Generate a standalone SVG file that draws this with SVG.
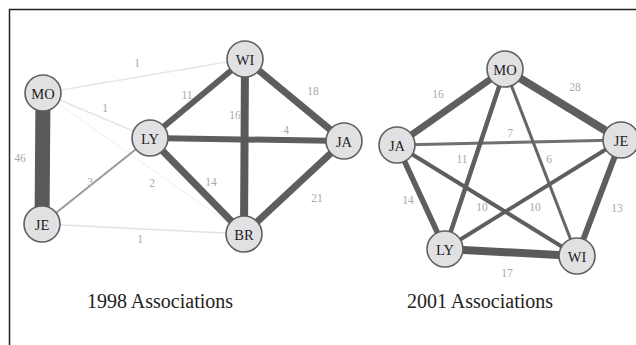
<svg xmlns="http://www.w3.org/2000/svg" width="636" height="345" viewBox="0 0 636 345">
<style>
.node circle{fill:#e1e1e3;stroke:#5f5f5f;stroke-width:1.6}
.node text{font-family:"Liberation Serif",serif;font-size:14.5px;fill:#222;text-anchor:middle;dominant-baseline:central}
.e{stroke-linecap:butt;fill:none}
.lbl{font-family:"Liberation Serif",serif;font-size:11.5px;fill:#a8a8a8;text-anchor:middle;dominant-baseline:central}
.title{font-family:"Liberation Serif",serif;font-size:20px;fill:#222;text-anchor:middle}
</style>
<rect x="0" y="0" width="636" height="345" fill="#fff"/>
<path d="M9.5,345 V9.5 H636" fill="none" stroke="#222" stroke-width="1.5"/>
<g id="connectors">
  <!-- 1998 -->
  <line class="e" x1="43" y1="93" x2="245" y2="59" stroke="#e6e6e6" stroke-width="1.5"/>
  <line class="e" x1="43" y1="93" x2="150" y2="138" stroke="#e6e6e6" stroke-width="1.5"/>
  <line class="e" x1="43" y1="93" x2="244" y2="234" stroke="#f4f4f4" stroke-width="1.2"/>
  <line class="e" x1="42" y1="224" x2="244" y2="234" stroke="#e2e2e2" stroke-width="1.5"/>
  <line class="e" x1="42" y1="224" x2="150" y2="138" stroke="#9a9a9a" stroke-width="2"/>
  <line class="e" x1="43" y1="93" x2="42" y2="224" stroke="#5a5a5a" stroke-width="15"/>
  <line class="e" x1="150" y1="138" x2="245" y2="59" stroke="#5e5e5e" stroke-width="6"/>
  <line class="e" x1="150" y1="138" x2="344" y2="141" stroke="#5e5e5e" stroke-width="6"/>
  <line class="e" x1="150" y1="138" x2="244" y2="234" stroke="#5e5e5e" stroke-width="7"/>
  <line class="e" x1="245" y1="59" x2="244" y2="234" stroke="#5a5a5a" stroke-width="8"/>
  <line class="e" x1="245" y1="59" x2="344" y2="141" stroke="#5e5e5e" stroke-width="7"/>
  <line class="e" x1="244" y1="234" x2="344" y2="141" stroke="#5e5e5e" stroke-width="7"/>
  <!-- 2001 -->
  <line class="e" x1="505" y1="69" x2="397" y2="145" stroke="#5e5e5e" stroke-width="7"/>
  <line class="e" x1="505" y1="69" x2="621" y2="140" stroke="#5e5e5e" stroke-width="8"/>
  <line class="e" x1="397" y1="145" x2="621" y2="140" stroke="#707070" stroke-width="3"/>
  <line class="e" x1="505" y1="69" x2="445" y2="249" stroke="#5e5e5e" stroke-width="4.5"/>
  <line class="e" x1="505" y1="69" x2="577" y2="256" stroke="#666" stroke-width="3"/>
  <line class="e" x1="397" y1="145" x2="445" y2="249" stroke="#5e5e5e" stroke-width="5.5"/>
  <line class="e" x1="397" y1="145" x2="577" y2="256" stroke="#5e5e5e" stroke-width="4"/>
  <line class="e" x1="445" y1="249" x2="621" y2="140" stroke="#5e5e5e" stroke-width="4"/>
  <line class="e" x1="621" y1="140" x2="577" y2="256" stroke="#5e5e5e" stroke-width="6"/>
  <line class="e" x1="445" y1="249" x2="577" y2="256" stroke="#5a5a5a" stroke-width="8"/>
</g>
<g id="edge-labels">
  <text class="lbl" x="137" y="63">1</text>
  <text class="lbl" x="105" y="108">1</text>
  <text class="lbl" x="90" y="182">3</text>
  <text class="lbl" x="152" y="183">2</text>
  <text class="lbl" x="140" y="239">1</text>
  <text class="lbl" x="20" y="158">46</text>
  <text class="lbl" x="187" y="95">11</text>
  <text class="lbl" x="235" y="115">16</text>
  <text class="lbl" x="313" y="91">18</text>
  <text class="lbl" x="286" y="130">4</text>
  <text class="lbl" x="211" y="182">14</text>
  <text class="lbl" x="317" y="198">21</text>
  <text class="lbl" x="438" y="94">16</text>
  <text class="lbl" x="575" y="87">28</text>
  <text class="lbl" x="510" y="133">7</text>
  <text class="lbl" x="462" y="159">11</text>
  <text class="lbl" x="549" y="159">6</text>
  <text class="lbl" x="408" y="200">14</text>
  <text class="lbl" x="482" y="207">10</text>
  <text class="lbl" x="535" y="207">10</text>
  <text class="lbl" x="617" y="208">13</text>
  <text class="lbl" x="507" y="273">17</text>
</g>
<g id="n1998-MO" class="node"><circle cx="43" cy="93" r="18"/><text x="43" y="94">MO</text></g>
<g id="n1998-JE" class="node"><circle cx="42" cy="224" r="18"/><text x="42" y="225">JE</text></g>
<g id="n1998-LY" class="node"><circle cx="150" cy="138" r="18"/><text x="150" y="139">LY</text></g>
<g id="n1998-WI" class="node"><circle cx="245" cy="59" r="18"/><text x="245" y="60">WI</text></g>
<g id="n1998-JA" class="node"><circle cx="344" cy="141" r="18"/><text x="344" y="142">JA</text></g>
<g id="n1998-BR" class="node"><circle cx="244" cy="234" r="18"/><text x="244" y="235">BR</text></g>
<g id="n2001-MO" class="node"><circle cx="505" cy="69" r="18"/><text x="505" y="70">MO</text></g>
<g id="n2001-JA" class="node"><circle cx="397" cy="145" r="18"/><text x="397" y="146">JA</text></g>
<g id="n2001-JE" class="node"><circle cx="621" cy="140" r="18"/><text x="621" y="141">JE</text></g>
<g id="n2001-LY" class="node"><circle cx="445" cy="249" r="18"/><text x="445" y="250">LY</text></g>
<g id="n2001-WI" class="node"><circle cx="577" cy="256" r="18"/><text x="577" y="257">WI</text></g>
<text class="title" x="160" y="308">1998 Associations</text>
<text class="title" x="480" y="308">2001 Associations</text>
</svg>
